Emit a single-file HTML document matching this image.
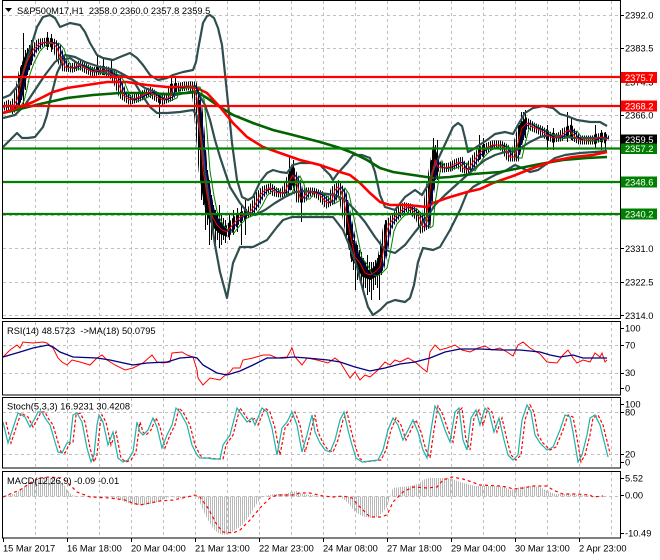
<!DOCTYPE html>
<html><head><meta charset="utf-8"><style>
html,body{margin:0;padding:0;background:#fff;}
svg{display:block;font-family:"Liberation Sans",sans-serif;font-size:9.3px;}
text{white-space:pre;}
</style></head><body>
<svg width="660" height="560" viewBox="0 0 660 560" xmlns="http://www.w3.org/2000/svg" xmlns:xlink="http://www.w3.org/1999/xlink">
<defs>
<pattern id="barpat" patternUnits="userSpaceOnUse" width="2" height="4"><rect x="0" y="0" width="1" height="4" fill="#000"/></pattern>
<pattern id="histpat" patternUnits="userSpaceOnUse" width="2" height="4"><rect x="0" y="0" width="1" height="4" fill="#b8b8b8"/></pattern>
<clipPath id="cmain"><rect x="3" y="1" width="617" height="317"/></clipPath>
<clipPath id="cthin"><rect x="3" y="1" width="606" height="317"/></clipPath>
<clipPath id="cbars"><rect x="3" y="1" width="606" height="317"/></clipPath>
<clipPath id="csto"><rect x="3" y="398" width="607" height="70"/></clipPath>
<polyline id="pp" points="3,108 8,105 12,108 17,100 20,88 23,73 27,62 33,50 40,43 47,42 53,43 57,48 60,57 65,67 72,68 80,65 87,69 93,72 100,70 107,71 113,75 117,80 123,95 130,100 137,98 143,95 150,92 157,97 163,100 170,97 173,88 180,87 187,86 193,86 197,98 200,130 203,170 207,195 210,210 213,218 217,225 222,230 227,232 230,228 235,222 240,217 245,215 250,212 255,205 260,195 265,190 270,188 275,192 280,193 285,192 290,180 293,175 297,183 300,198 303,198 307,192 313,192 320,195 327,203 332,200 335,190 338,187 342,193 345,207 350,233 355,257 360,263 365,273 370,275 375,272 380,267 383,253 387,230 390,223 395,217 400,212 405,207 410,208 415,213 420,218 423,227 426,225 428,203 432,177 435,160 438,167 443,168 450,167 457,163 460,162 463,168 468,170 473,162 478,155 483,150 488,147 493,145 500,145 505,148 510,157 515,157 518,143 522,128 527,123 533,127 540,130 547,135 553,138 560,137 565,132 570,130 575,137 580,140 587,140 593,140 598,138 603,137 607,140"/>
<polyline id="sto" points="3,422 8,443 15,422 18,413 25,417 30,427 35,418 38,412 42,412 45,418 50,425 55,442 58,452 62,453 67,443 70,442 73,415 77,413 82,422 87,448 91,462 94,455 97,425 99,415 103,422 108,445 113,432 118,458 123,462 128,460 133,452 137,422 140,432 143,435 148,430 153,418 157,427 162,448 167,435 172,425 176,408 180,412 187,425 192,445 197,455 200,458 207,458 213,459 220,459 223,445 230,435 237,408 242,415 247,422 252,418 255,425 262,408 267,412 272,428 277,455 282,428 287,422 292,412 297,425 302,452 307,435 312,415 315,432 320,443 325,450 330,452 335,440 340,420 344,412 348,430 352,445 356,458 362,462 370,461 378,460 383,450 388,430 393,418 398,425 403,440 408,430 413,420 418,432 423,450 427,458 431,430 435,406 440,415 445,430 450,442 455,412 459,408 463,440 467,450 471,418 476,410 480,425 485,408 489,412 494,432 499,418 504,440 508,455 513,460 518,455 522,420 527,405 531,412 535,435 540,443 547,450 553,447 560,430 565,415 570,417 573,432 578,462 582,455 587,435 590,418 595,415 600,425 605,445 608,457"/>
</defs>
<rect x="0" y="0" width="660" height="560" fill="#fff"/>

<!-- grids -->
<g stroke="#c0c0c0" stroke-width="1" stroke-dasharray="3,3" fill="none">
<path d="M3,15.5H620M3,48.5H620M3,81.5H620M3,115.5H620M3,148.5H620M3,182.5H620M3,215.5H620M3,248.5H620M3,282.5H620M3,315.5H620"/>
<path d="M3,345.5H620M3,373.5H620M3,412.5H620M3,454.5H620M3,496.5H620"/>
<path d="M35.5,1V318M67.5,1V318M99.5,1V318M131.5,1V318M163.5,1V318M195.5,1V318M227.5,1V318M259.5,1V318M291.5,1V318M323.5,1V318M355.5,1V318M387.5,1V318M419.5,1V318M451.5,1V318M483.5,1V318M515.5,1V318M547.5,1V318M579.5,1V318M611.5,1V318"/>
<path d="M35.5,322V395M67.5,322V395M99.5,322V395M131.5,322V395M163.5,322V395M195.5,322V395M227.5,322V395M259.5,322V395M291.5,322V395M323.5,322V395M355.5,322V395M387.5,322V395M419.5,322V395M451.5,322V395M483.5,322V395M515.5,322V395M547.5,322V395M579.5,322V395M611.5,322V395"/>
<path d="M35.5,398V468M67.5,398V468M99.5,398V468M131.5,398V468M163.5,398V468M195.5,398V468M227.5,398V468M259.5,398V468M291.5,398V468M323.5,398V468M355.5,398V468M387.5,398V468M419.5,398V468M451.5,398V468M483.5,398V468M515.5,398V468M547.5,398V468M579.5,398V468M611.5,398V468"/>
<path d="M35.5,472V538M67.5,472V538M99.5,472V538M131.5,472V538M163.5,472V538M195.5,472V538M227.5,472V538M259.5,472V538M291.5,472V538M323.5,472V538M355.5,472V538M387.5,472V538M419.5,472V538M451.5,472V538M483.5,472V538M515.5,472V538M547.5,472V538M579.5,472V538M611.5,472V538"/>
</g>

<g clip-path="url(#cmain)">
<line x1="3" y1="140.5" x2="620" y2="140.5" stroke="#c0c0c0" stroke-width="1"/>
<!-- bars -->
<g clip-path="url(#cbars)">
<use href="#pp" xlink:href="#pp" fill="none" stroke="url(#barpat)" stroke-width="9"/>
</g>
<path stroke="#000" stroke-width="1" fill="none" d="M23.5,33V105M47.5,32V50M51.5,34V52M97.5,56V72M103.5,57V75M111.5,60V78M159.5,95V118M171.5,78V96M175.5,76V92M201.5,115V200M205.5,150V230M209.5,180V245M219.5,205V248M241.5,205V245M245.5,200V235M289.5,157V190M301.5,190V222M355.5,245V290M367.5,255V295M371.5,262V300M379.5,255V300M433.5,138V190M437.5,140V180M479.5,135V160M483.5,138V158M521.5,112V145M525.5,110V138M547.5,125V150M553.5,128V150M567.5,112V142M571.5,118V140M595.5,125V148M601.5,130V150M605.5,132V150
M199.5,100V150M203.5,140V205M207.5,170V225M211.5,195V240M213.5,205V238M215.5,210V245M217.5,212V240M221.5,215V245M223.5,218V240M225.5,220V243M229.5,215V240M233.5,210V235M237.5,208V232
M347.5,200V235M349.5,215V250M351.5,225V262M353.5,240V270M357.5,245V280M359.5,250V275M361.5,252V285M363.5,258V290M365.5,262V288M369.5,262V292M373.5,262V290M375.5,260V285M377.5,258V288M381.5,245V275M385.5,220V255
M429.5,180V225M431.5,160V200M435.5,145V180M19.5,75V105M21.5,65V100M25.5,50V90M27.5,48V75M29.5,45V70M31.5,40V65M291.5,165V190M293.5,160V188M519.5,125V155M523.5,112V140"/>

<!-- Bollinger -->
<g fill="none" stroke="#2f4f4f" stroke-width="2.2" stroke-linejoin="round">
<polyline points="3,98 10,95 20,83 30,50 37,27 43,17 50,15 55,18 60,27 65,25 70,23 80,25 85,32 90,43 97,55 103,58 113,60 120,57 130,53 137,58 143,65 150,75 158,80 167,78 173,75 183,72 193,70 196,62 198,50 203,23 207,16 210,15 214,18 218,28 222,45 227,93 232,143 237,180 242,197 248,200 253,197 260,182 267,173 273,170 280,172 287,173 293,165 300,163 313,163 320,165 330,175 333,180 338,173 347,163 353,155 362,155 370,158 375,172 380,195 385,207 395,210 405,197 415,190 422,195 428,185 434,168 440,155 447,140 453,127 458,123 462,126 465,138 468,152 472,150 478,146 487,140 495,134 505,132 513,134 518,125 525,113 533,108 543,106 553,108 560,114 567,116 577,120 590,122 600,122 607,126"/>
<polyline points="3,147 10,140 17,133 22,138 28,138 35,137 43,127 47,115 50,100 54,85 57,73 63,60 70,58 77,63 87,67 100,72 113,75 123,76 133,80 142,95 150,107 157,113 167,113 180,112 193,110 197,116 200,130 205,170 210,210 215,245 220,272 227,298 233,263 240,247 253,247 267,240 277,227 283,220 292,217 300,217 320,217 333,217 343,230 350,247 357,267 363,290 368,307 373,315 380,310 387,303 395,300 405,302 410,298 414,285 418,262 423,248 433,250 440,247 450,230 460,210 467,193 473,187 480,183 495,175 505,171 515,165 522,168 530,172 538,170 545,165 555,158 565,155 580,153 595,152 607,151"/>
<polyline points="3,118 15,115 25,105 35,90 45,75 55,62 65,55 75,57 85,62 100,67 115,70 130,78 145,88 160,94 175,95 190,92 197,91 205,105 210,120 215,140 220,157 225,172 230,187 240,203 248,213 255,215 265,210 275,203 285,197 295,192 305,191 320,193 335,195 345,200 355,210 365,222 375,237 385,250 395,253 405,245 415,232 425,220 435,205 445,195 455,186 465,177 475,168 485,160 495,155 505,152 515,151 522,147 530,142 540,137 550,135 560,136 575,138 590,138 607,138"/>
</g>
<!-- thick MAs -->
<polyline fill="none" stroke="#006400" stroke-width="2.6" points="3,113 20,109 40,104 67,98 93,95 120,93 143,93 167,94 187,93 197,92 207,98 220,107 233,115 253,123 273,130 293,135 320,142 340,148 353,153 367,160 380,168 393,172 413,175 433,178 450,177 473,174 500,172 520,168 540,164 563,160 587,158 607,157"/>
<polyline fill="none" stroke="#ff0000" stroke-width="2.6" points="3,113 20,107 33,102 43,97 53,92 67,88 87,85 107,82 127,82 147,85 167,87 187,87 197,88 207,93 220,107 233,123 247,137 263,147 280,153 300,160 320,165 340,172 350,175 360,183 370,193 380,202 390,205 407,205 427,207 433,203 447,198 467,192 480,189 493,183 513,176 533,168 553,161 573,157 593,155 607,152"/>
</g>
<!-- thin MAs -->
<g clip-path="url(#cthin)" fill="none" stroke-width="1">
<use href="#pp" xlink:href="#pp" stroke="#008000" transform="translate(7,1)"/>
<use href="#pp" xlink:href="#pp" stroke="#00008b" transform="translate(3,0)"/>
<use href="#pp" xlink:href="#pp" stroke="#ff0000"/>
</g>
<!-- horizontal levels -->
<g stroke-width="2.2">
<line x1="3" y1="77" x2="620" y2="77" stroke="#ff0000"/>
<line x1="3" y1="106" x2="620" y2="106" stroke="#ff0000"/>
<line x1="3" y1="148.5" x2="620" y2="148.5" stroke="#008000"/>
<line x1="3" y1="182" x2="620" y2="182" stroke="#008000"/>
<line x1="3" y1="214" x2="620" y2="214" stroke="#008000"/>
</g>

<!-- RSI -->
<polyline fill="none" stroke="#ff0000" stroke-width="1" points="3,357 10,350 17,345 20,348 23,342 33,343 43,342 47,343 53,348 58,358 62,362 67,365 72,360 80,362 90,365 97,358 102,355 107,360 115,365 125,370 133,368 143,363 152,355 157,362 163,363 170,362 172,353 182,352 187,355 193,357 197,370 198,378 203,385 210,378 220,380 223,377 230,372 233,368 240,368 243,360 253,358 263,355 270,355 277,358 287,357 292,348 295,357 302,365 307,358 317,360 328,363 335,358 340,362 345,370 350,378 355,372 360,380 365,375 370,377 378,370 385,362 390,365 395,360 400,362 408,358 415,362 422,368 427,372 430,352 435,345 440,350 447,348 455,345 462,350 470,352 478,348 485,346 492,350 500,348 507,352 513,356 518,345 523,342 530,348 540,354 547,362 557,363 563,355 568,350 573,358 577,363 583,360 590,362 595,353 600,357 602,353 605,362 607,360"/>
<polyline fill="none" stroke="#000080" stroke-width="1.3" points="3,357 20,352 33,348 48,345 53,347 60,352 73,357 97,358 110,360 133,365 147,363 167,362 180,358 193,357 197,358 203,365 217,373 227,375 240,371 253,365 267,358 283,358 293,357 307,358 328,360 340,362 355,367 370,371 385,368 400,364 415,362 430,358 445,352 460,349 480,349 500,350 520,350 540,352 550,355 560,357 573,355 583,358 607,358"/>

<!-- Stoch -->
<g clip-path="url(#csto)" fill="none" stroke-width="1.2">
<use href="#sto" xlink:href="#sto" stroke="#ff0000" stroke-dasharray="3,2" transform="translate(3,0)"/>
<use href="#sto" xlink:href="#sto" stroke="#20b2aa"/>
</g>

<!-- MACD -->
<polygon fill="url(#histpat)" points="3,496 15,494 20,490 25,486 30,483 40,480 50,478 55,479 62,482 67,490 72,495 80,497 95,497 110,497 120,499 125,502 135,505 145,505 155,503 162,500 170,497 180,498 190,497 195,496 198,498 203,510 208,520 213,528 218,533 223,535 228,534 235,530 242,525 250,515 256,505 260,499 264,496 275,494 285,494 292,492 297,491 302,494 310,495 320,496 330,497 340,497 345,500 350,505 355,512 362,516 370,518 377,517 382,513 387,507 390,497 393,488 400,487 410,486 418,484 423,480 428,478 435,478 445,478 452,479 460,482 467,484 475,486 485,486 495,486 505,487 510,490 515,489 520,487 530,486 540,487 545,490 550,492 555,494 565,494 580,495 595,496 607,496 607,496.5 3,496.5"/>
<polyline fill="none" stroke="#ff0000" stroke-width="1.2" stroke-dasharray="3,3" points="3,497 10,494 20,490 30,483 40,478 50,477 62,478 70,485 77,492 90,497 110,498 125,500 133,503 140,505 150,503 160,501 173,500 187,497 195,495 200,497 208,508 217,525 223,532 233,533 240,530 250,520 260,508 270,498 277,495 293,495 300,493 310,493 323,496 333,497 343,496 352,498 358,505 365,512 370,517 380,517 387,515 393,502 403,492 413,487 427,488 437,487 443,480 452,477 463,479 472,482 480,485 500,486 507,487 513,489 523,488 533,486 547,486 553,490 563,494 577,494 590,495 593,497 603,496"/>

<!-- frames -->
<g fill="none" stroke="#000" stroke-width="1">
<rect x="2.5" y="0.5" width="618" height="318"/>
<rect x="2.5" y="321.5" width="618" height="73.5"/>
<rect x="2.5" y="397.5" width="618" height="70.5"/>
<rect x="2.5" y="471.5" width="618" height="66.5"/>
<path d="M620,15.5h4M620,48.5h4M620,81.5h4M620,115.5h4M620,248.5h4M620,282.5h4M620,315.5h4M620,328.5h4M620,345.5h4M620,373.5h4M620,388.5h4M620,404.5h4M620,412.5h4M620,454.5h4M620,462.5h4M620,478.5h4M620,495.5h4M620,533.5h4"/>
<path d="M3.5,538v4M67.5,538v4M131.5,538v4M195.5,538v4M259.5,538v4M323.5,538v4M387.5,538v4M451.5,538v4M515.5,538v4M579.5,538v4"/>
</g>

<!-- headers -->
<polygon points="5,8 12,8 8.5,12" fill="#000"/>
<text x="17" y="14">S&amp;P500M17,H1  2358.0 2360.0 2357.8 2359.5</text>
<text x="7" y="334">RSI(14) 48.5723  -&gt;MA(18) 50.0795</text>
<text x="7" y="409.5">Stoch(5,3,3) 16.9231 30.4208</text>
<text x="7" y="484">MACD(12,26,9) -0.09 -0.01</text>

<!-- right axis labels -->
<g fill="#000">
<text x="625" y="18.3">2392.0</text>
<text x="625" y="51.7">2383.5</text>
<text x="625" y="85.3">2374.3</text>
<text x="625" y="118.5">2366.0</text>
<text x="625" y="252.1">2331.0</text>
<text x="625" y="285.5">2322.5</text>
<text x="625" y="318.9">2314.0</text>
<text x="625" y="331.3">100</text>
<text x="625" y="348.3">70</text>
<text x="625" y="376">30</text>
<text x="625" y="391.3">0</text>
<text x="625" y="407.3">100</text>
<text x="625" y="415.3">80</text>
<text x="625" y="457.5">20</text>
<text x="625" y="465.3">0</text>
<text x="625" y="481.3">5.52</text>
<text x="625" y="498.5">0.00</text>
<text x="625" y="536.3">-10.49</text>
</g>
<rect x="621" y="72" width="36" height="11" fill="#ff0000"/>
<text x="625" y="80.8" fill="#fff">2375.7</text>
<rect x="621" y="100.5" width="36" height="11" fill="#ff0000"/>
<text x="625" y="109.3" fill="#fff">2368.2</text>
<rect x="621" y="134.5" width="36" height="10" fill="#000"/>
<text x="625" y="142.8" fill="#fff">2359.5</text>
<rect x="621" y="143.5" width="36" height="10.5" fill="#008000"/>
<text x="625" y="152" fill="#fff">2357.2</text>
<rect x="621" y="176.5" width="36" height="11" fill="#008000"/>
<text x="625" y="185.3" fill="#fff">2348.6</text>
<rect x="621" y="208.5" width="36" height="11" fill="#008000"/>
<text x="625" y="217.3" fill="#fff">2340.2</text>

<!-- bottom axis labels -->
<g fill="#000">
<text x="3" y="551.5">15 Mar 2017</text>
<text x="67" y="551.5">16 Mar 18:00</text>
<text x="131" y="551.5">20 Mar 04:00</text>
<text x="195" y="551.5">21 Mar 13:00</text>
<text x="259" y="551.5">22 Mar 23:00</text>
<text x="323" y="551.5">24 Mar 08:00</text>
<text x="387" y="551.5">27 Mar 18:00</text>
<text x="451" y="551.5">29 Mar 04:00</text>
<text x="515" y="551.5">30 Mar 13:00</text>
<text x="579" y="551.5">2 Apr 23:00</text>
</g>
</svg>
</body></html>
